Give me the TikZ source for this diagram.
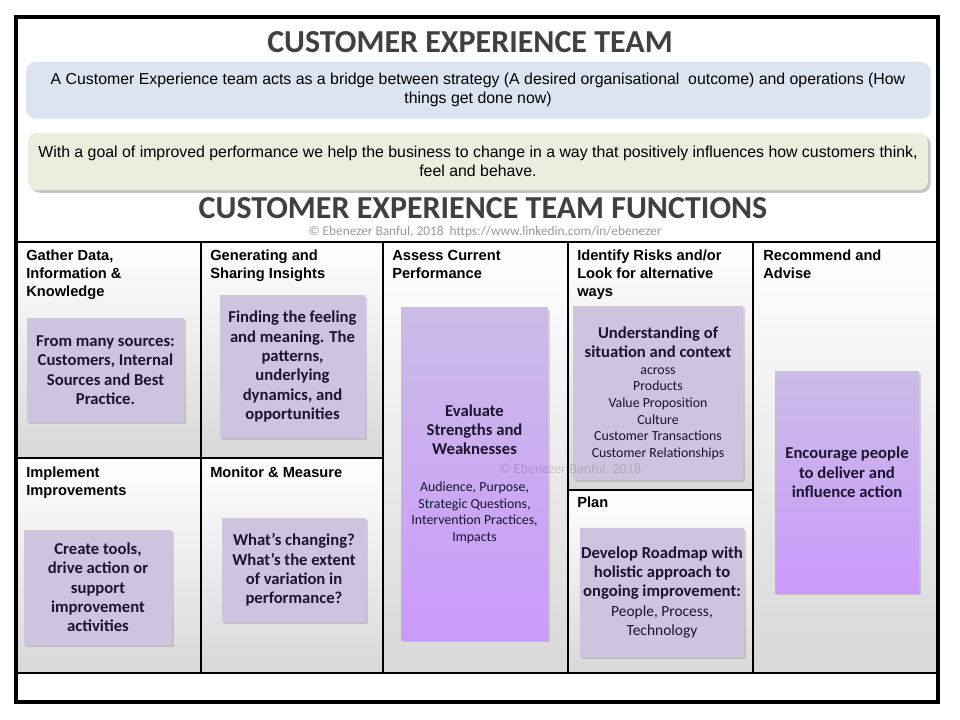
\documentclass[tikz,border=0pt]{standalone}
\usepackage{fontspec}
\setmainfont{Liberation Sans}
\newfontfamily\carlito{Carlito}
\usetikzlibrary{positioning,shadows}

\definecolor{titlegrey}{RGB}{64,64,64}
\definecolor{bluebanner}{RGB}{219,229,241}
\definecolor{greenbanner}{RGB}{233,238,222}
\definecolor{cellgrey}{RGB}{216,216,216}
\definecolor{notegrey}{RGB}{206,196,224}
\definecolor{notetop}{RGB}{203,188,230}
\definecolor{notebottom}{RGB}{202,154,252}
\definecolor{notetext}{RGB}{28,20,48}

\begin{document}
\begin{tikzpicture}[x=0.75pt,y=-0.75pt,
    title/.style={inner sep=0pt,text=titlegrey,font=\carlito\bfseries\fontsize{24}{28}\selectfont},
    banner/.style={rounded corners=7pt,align=center,inner sep=0pt,font=\fontsize{11.9}{14.25}\selectfont},
    heading/.style={anchor=north west,align=left,inner sep=0pt,font=\bfseries\fontsize{11}{13.5}\selectfont},
    note/.style={fill=notegrey,align=flush center,inner sep=0pt,text=notetext,
      font=\carlito\bfseries\fontsize{12.5}{14.5}\selectfont,
      drop shadow={shadow xshift=1.5pt,shadow yshift=-1.5pt,opacity=0.3}},
    tallnote/.style={note,top color=notetop,bottom color=notebottom},
    watermark/.style={inner sep=0pt,font=\carlito\fontsize{10}{12}\selectfont}]
  \useasboundingbox (0,0) rectangle (960,720);
  \fill[white] (0,0) rectangle (960,720);

  \node[title] (team title) at (470,42) {CUSTOMER EXPERIENCE TEAM};
  \node[banner,fill=bluebanner,minimum width=678pt,minimum height=42pt,
    drop shadow={shadow xshift=1pt,shadow yshift=-1pt,opacity=0.15}] (bridge) at (478,90)
    {A Customer Experience team acts as a bridge between strategy (A desired organisational\ \ outcome) and operations (How\\things get done now)};
  \node[banner,fill=greenbanner,minimum width=675pt,minimum height=43pt,
    drop shadow={shadow xshift=2pt,shadow yshift=-2pt,opacity=0.45}] (goal) at (478,161.5)
    {With a goal of improved performance we help the business to change in a way that positively influences how customers think,\\feel and behave.};
  \node[title] (functions title) at (483,208) {CUSTOMER EXPERIENCE TEAM FUNCTIONS};
  \node[watermark,text=black!40] (credit) at (485,231.5) {© Ebenezer Banful, 2018\ \ https://www.linkedin.com/in/ebenezer};

  \foreach \xa/\ya/\xb/\yb in {16/242/201/458,16/458/201/673,201/242/383/458,201/458/383/673,
      383/242/568/673,568/242/753/490,568/490/753/673,753/242/938/673}
    \shade[top color=white,bottom color=cellgrey] (\xa,\ya) rectangle (\xb,\yb);

  \draw[line width=1.8pt] (16,242) -- (938,242);
  \draw[line width=1.8pt] (16,673) -- (938,673);
  \draw[line width=1.8pt] (16,458) -- (383,458);
  \draw[line width=1.8pt] (568,490) -- (753,490);
  \foreach \x in {201,383,568,753}
    \draw[line width=1.8pt] (\x,242) -- (\x,673);
  \draw[line width=3pt] (16,17.5) rectangle (938,702);

  \node[heading] (gather) at (26,250) {Gather Data,\\Information \&\\Knowledge};
  \node[heading] (insights) at (210,250) {Generating and\\Sharing Insights};
  \node[heading] (assess) at (392,250) {Assess Current\\Performance};
  \node[heading] (risks) at (577,250) {Identify Risks and/or\\Look for alternative\\ways};
  \node[heading] (advise) at (763,250) {Recommend and\\Advise};
  \node[heading] (implement) at (26,467) {Implement\\Improvements};
  \node[heading] (monitor) at (210,467) {Monitor \& Measure};
  \node[heading] (plan) at (577,497) {Plan};

  \node[note,minimum width=118pt,minimum height=78pt,text width=118pt] (gather note) at (105.5,370)
    {From many sources:\\Customers, Internal\\Sources and Best\\Practice.};
  \node[note,minimum width=109pt,minimum height=107pt,text width=109pt] (insights note) at (292.5,366.5)
    {Finding the feeling\\and meaning. The\\patterns,\\underlying\\dynamics, and\\opportunities};
  \node[tallnote,minimum width=110pt,minimum height=249pt,text width=110pt] (assess note) at (474.5,474)
    {Evaluate\\Strengths and\\Weaknesses\par\vskip15pt
     \mdseries\fontsize{10.4}{12.5}\selectfont Audience, Purpose,\\Strategic Questions,\\Intervention Practices,\\Impacts\par};
  \node[note,minimum width=127.5pt,minimum height=130.5pt,text width=127.5pt] (risks note) at (658,393)
    {Understanding of\\situation and context\par
     \mdseries\fontsize{10.4}{12.5}\selectfont across\\Products\\Value Proposition\\Culture\\Customer Transactions\\Customer Relationships\par};
  \node[note,minimum width=123pt,minimum height=97pt,text width=123pt] (plan note) at (662,592.5)
    {Develop Roadmap with\\holistic approach to\\ongoing improvement:\\
     \mdseries\fontsize{11.6}{14.6}\selectfont People, Process,\\Technology\par};
  \node[tallnote,minimum width=108pt,minimum height=166pt,text width=108pt] (advise note) at (847,482.5)
    {Encourage people\\to deliver and\\influence action\par\vskip15pt\hrule height0pt};
  \node[note,minimum width=111pt,minimum height=86pt,text width=111pt] (implement note) at (98,587.5)
    {Create tools,\\drive action or\\support\\improvement\\activities};
  \node[note,minimum width=108pt,minimum height=78pt,text width=108pt] (monitor note) at (294,570)
    {What’s changing?\\What’s the extent\\of variation in\\performance?};

  \node[watermark,text=black,opacity=0.15,font=\carlito\fontsize{10.5}{12}\selectfont] (stamp) at (570,470) {© Ebenezer Banful, 2018};
\end{tikzpicture}
\end{document}
